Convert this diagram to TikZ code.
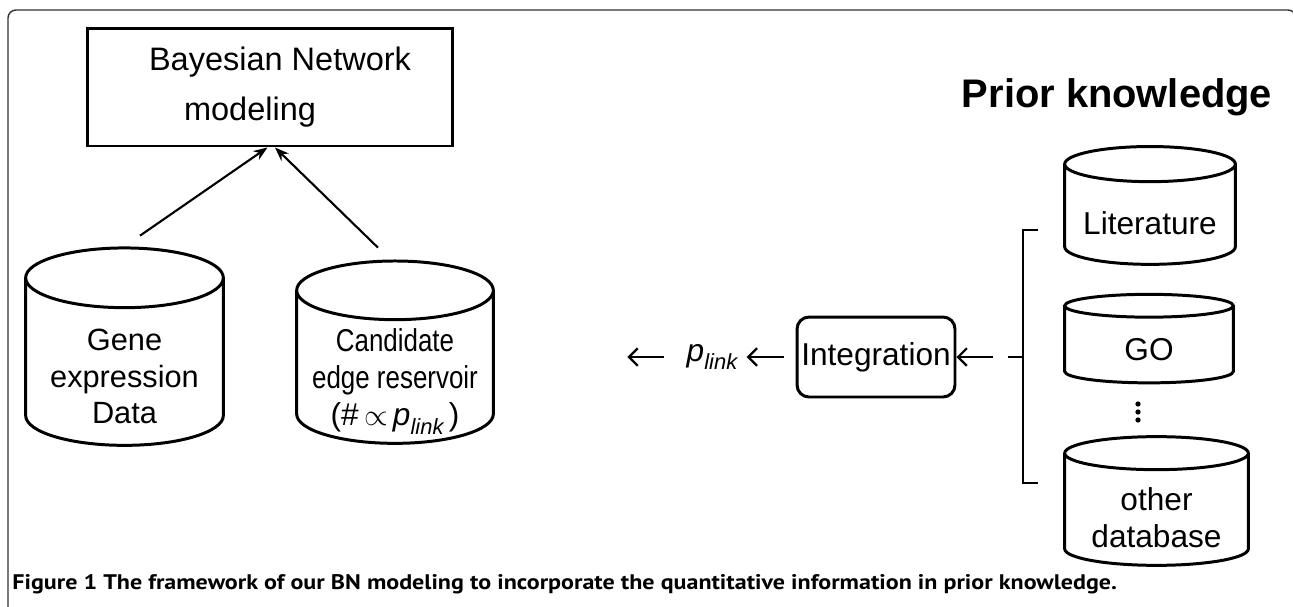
\documentclass[tikz,border=0pt]{standalone}
\usepackage{fontspec}
\setmainfont{Liberation Sans}
\newfontfamily\capfont{PT Sans}
\usepackage{tikz}
\usetikzlibrary{arrows.meta, positioning, calc, shapes.geometric}

% outline of a data store round a named node: #1 node, #2 radius of the ends
\newcommand{\dbdraw}[2]{%
  \draw[line width=1.7pt] let \p1=(#1.north west), \p2=(#1.south east), \n1={(\x2-\x1)/2} in
    (\x1,\y1+#2) -- (\x1,\y2+#2) arc[start angle=180, end angle=360, x radius=\n1, y radius=#2] -- (\x2,\y1+#2)
    (\x1+\n1,\y1+#2) ellipse[x radius=\n1, y radius=#2];}
\newcommand{\plink}{\textit{p}\raisebox{-0.5ex}{\fontsize{12.5}{12}\selectfont\itshape link}}

\begin{document}
\begin{tikzpicture}[x=0.02cm, y=-0.02cm,
    every node/.style={font=\fontsize{18}{21}\selectfont},
    db/.style={align=center, inner sep=0pt},
    uarr/.style={-{Stealth[length=8pt, width=6pt]}, line width=1.2pt},
    larr/.style={-{Straight Barb[length=5pt, width=10pt]}, line width=1.3pt}]
  \useasboundingbox (0,0) rectangle (1293,606);
  % frame of the figure
  \draw[line width=0.8pt, black!80, rounded corners=0.16cm] (8,640) -- (8,10) -- (1296,10) -- (1296,640);

  \node[draw, line width=1.7pt, minimum width=7.32cm, minimum height=2.36cm, align=center, font=\fontsize{18.5}{28}\selectfont] (bn) at (270,87) {\hspace*{0.4cm}Bayesian Network\\modeling\hspace*{0.8cm}};

  \node[db, minimum width=3.94cm, minimum height=2.74cm, font=\fontsize{17.5}{21}\selectfont] (gene) at (124.5,376.5) {Gene\\expression\\Data};
  \node[db, minimum width=3.92cm, minimum height=2.46cm] (cand) at (395,381.5) {\scalebox{0.82}[1]{Candidate}\\\scalebox{0.82}[1]{edge reservoir}\\(\#\,$\propto$\,\plink\,)};
  \dbdraw{gene}{17pt}
  \dbdraw{cand}{16.7pt}

  \node[inner sep=0pt] (plink) at (712,357) {\plink};
  \node[draw, line width=1.7pt, rounded corners=0.24cm, minimum width=3.16cm, minimum height=1.6cm, inner sep=1pt] (integ) at (876,357) {Integration};

  \node[font=\fontsize{22.7}{26}\selectfont\bfseries] (prior) at (1117,97) {Prior knowledge};
  \node[db, minimum width=3.4cm, minimum height=1.64cm] (lit) at (1150,223) {Literature};
  \node[db, minimum width=3.36cm, minimum height=1.3cm] (go) at (1149,350) {GO};
  \node[db, minimum width=3.66cm, minimum height=1.9cm] (other) at (1156.5,517.5) {other\\database};
  \dbdraw{lit}{10pt}
  \dbdraw{go}{6.5pt}
  \dbdraw{other}{9.4pt}
  \node[inner sep=0pt, minimum size=0.4cm] (dots) at (1138,412) {};
  \foreach \d in {-8,0,8}
    \fill ([shift={(0,\d)}]dots.center) circle[radius=1.5pt];

  % bracket round the sources
  \draw[line width=1.3pt] (1038,230) -- (1023,230) -- (1023,483) -- (1038,483);
  \coordinate (brc) at (1008,357);
  \draw[line width=1.3pt] (1023,357) -- (brc);

  \draw[uarr] ([shift={(15.5,-72)}]gene.north) -- ([xshift=-0.05cm]bn.south);
  \draw[uarr] ([shift={(-17,-72)}]cand.north) -- ([xshift=0.1cm]bn.south);
  \draw[larr, shorten <=0.44cm, shorten >=2.68cm] (plink.west) -- (plink.west -| cand.east);
  \draw[larr, shorten <=0.24cm, shorten >=0.18cm] (integ.west) -- (plink.east);
  \draw[larr, shorten <=0.3cm] (brc) -- (integ.east);

  \node[anchor=west, inner sep=0pt, font=\capfont\fontsize{12}{14}\selectfont\bfseries] (cap) at (12,584) {\scalebox{1.14}[1]{Figure 1 The framework of our BN modeling to incorporate the quantitative information in prior knowledge.}};
\end{tikzpicture}
\end{document}
